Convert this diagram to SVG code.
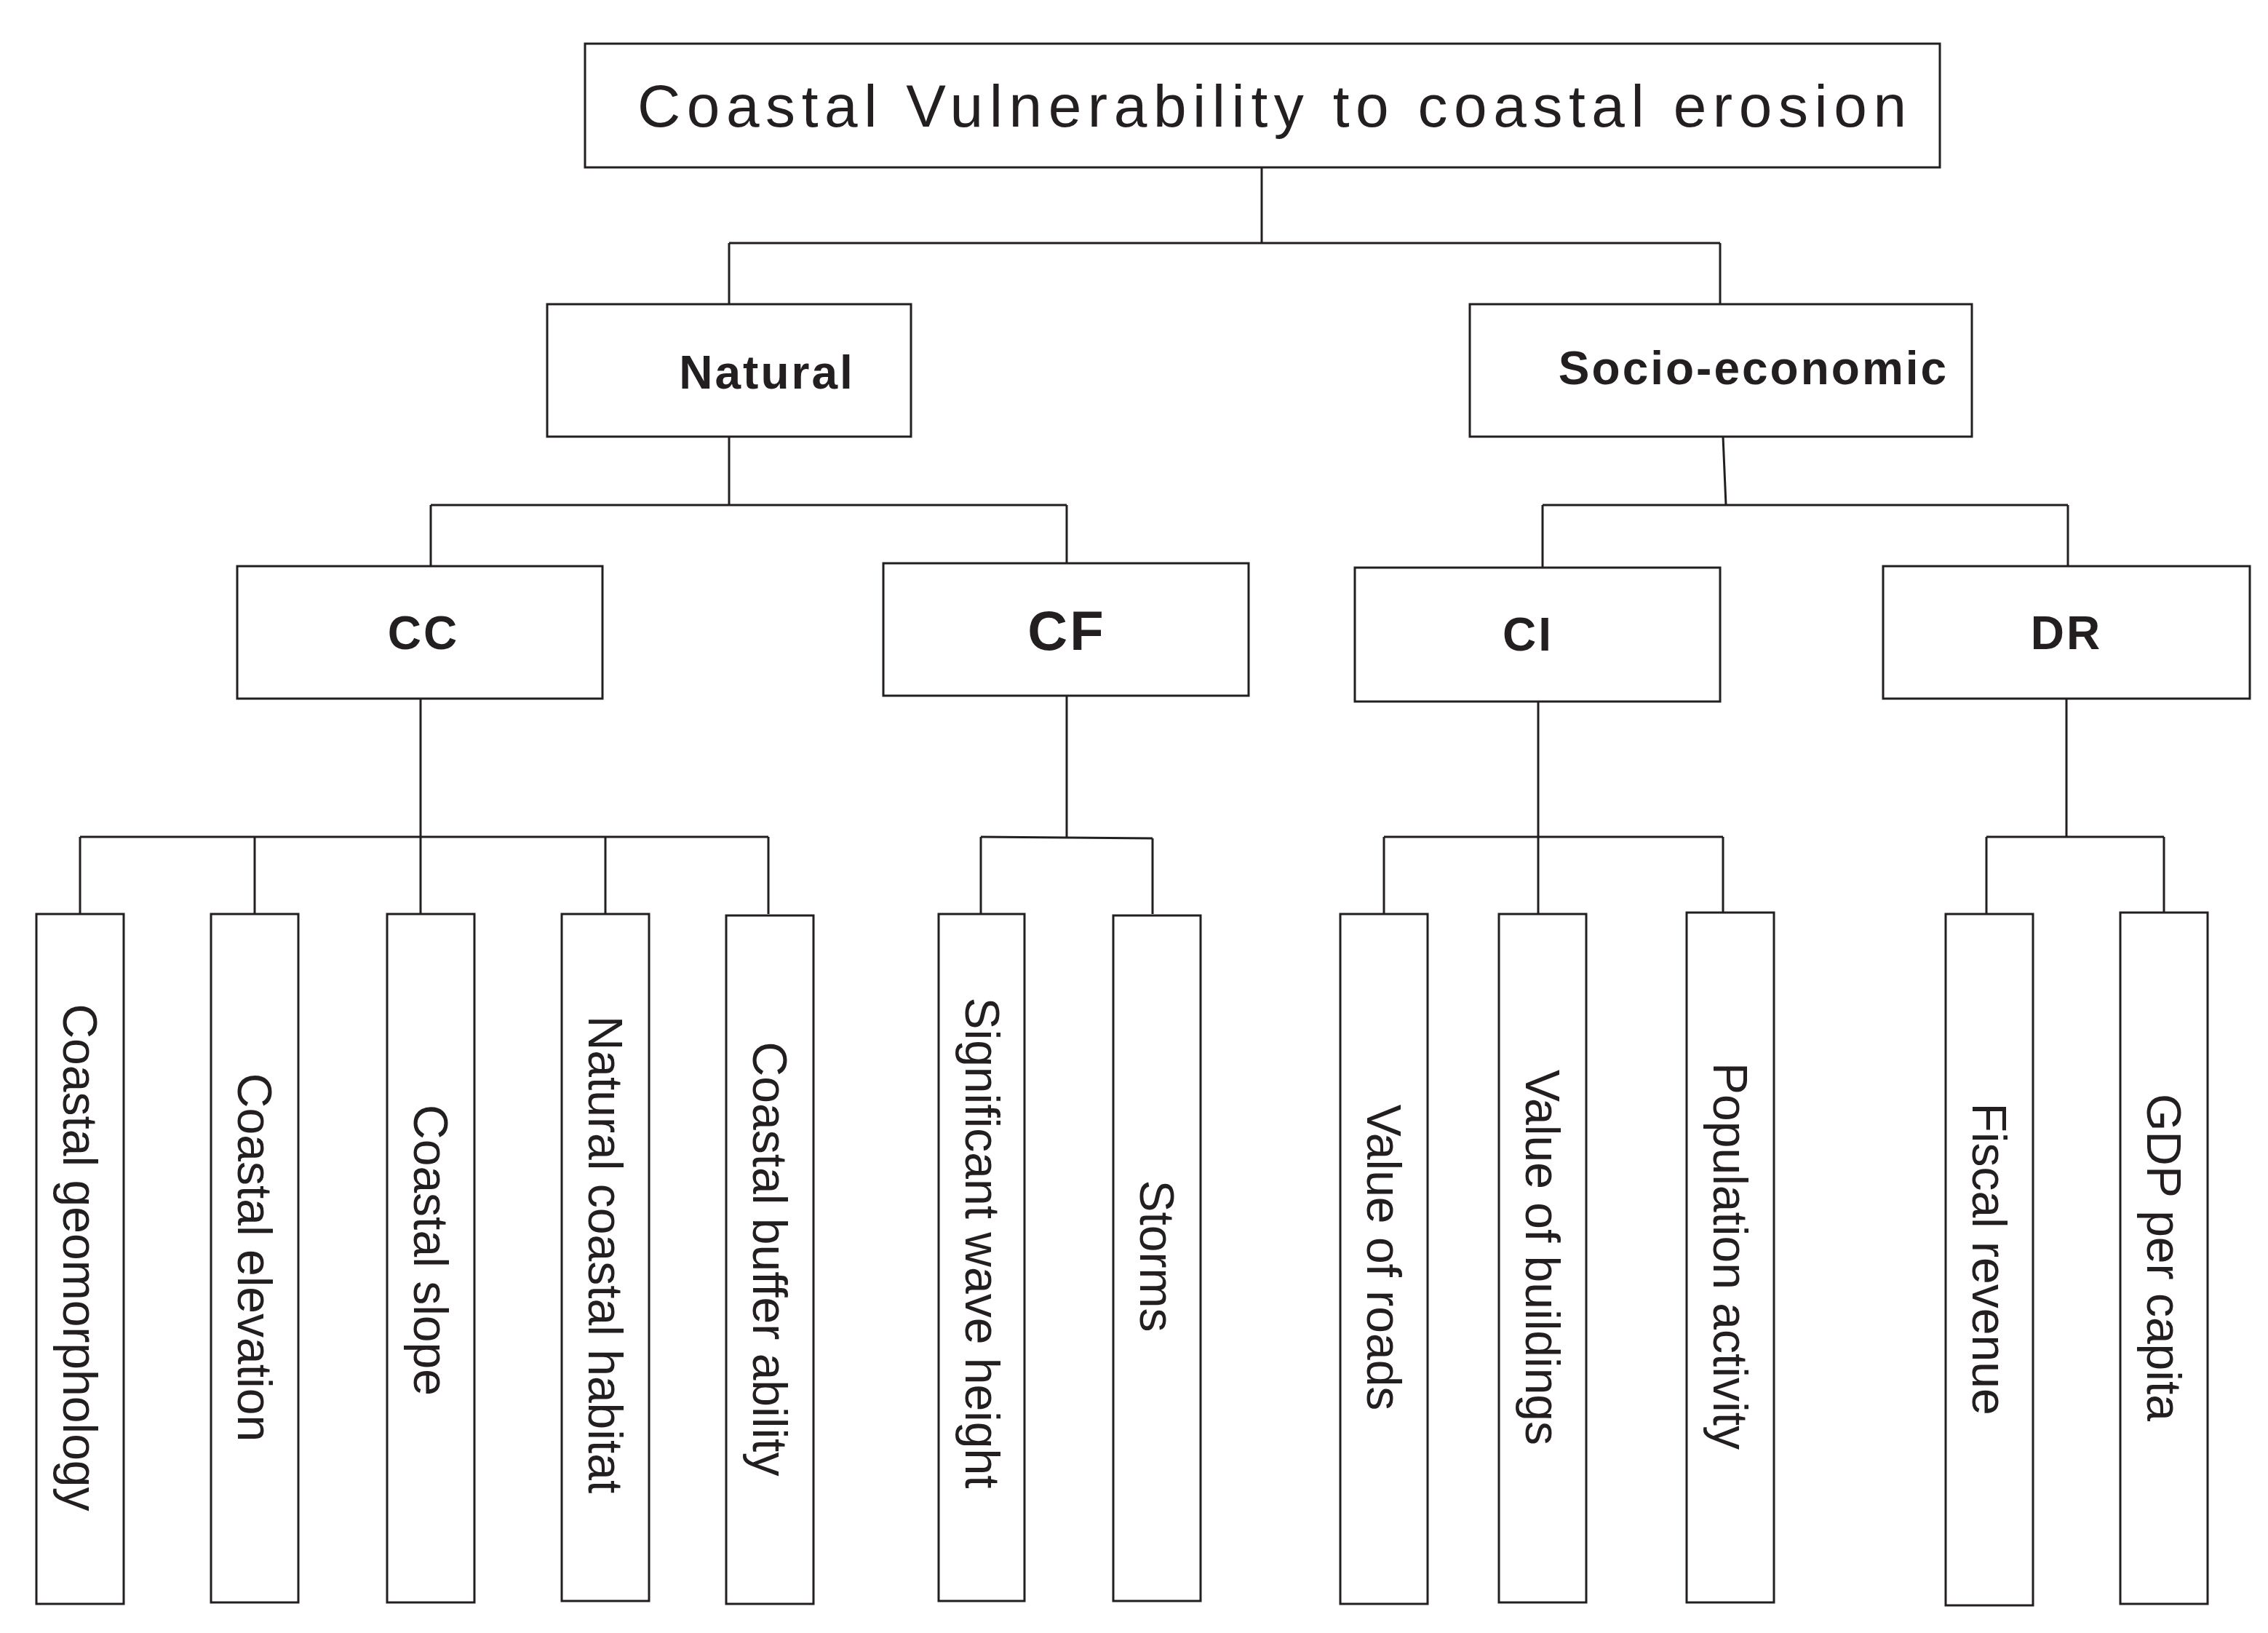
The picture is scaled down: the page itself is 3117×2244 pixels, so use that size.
<svg xmlns="http://www.w3.org/2000/svg" width="3117" height="2244" viewBox="0 0 3117 2244">
<style>
rect{fill:#fff;stroke:#231f20;stroke-width:3}
.c line{stroke:#231f20;stroke-width:3}
text{font-family:"Liberation Sans",Arial,sans-serif;fill:#231f20;text-anchor:middle;dominant-baseline:central}
.b{font-weight:bold;font-size:64px;letter-spacing:3px}
.v{font-size:66px}
</style>
<rect x="0" y="0" width="3117" height="2244" style="stroke:none"/>
<g class="c">
<line x1="1734" y1="230" x2="1734" y2="334"/><line x1="1002" y1="334" x2="2364" y2="334"/>
<line x1="1002" y1="334" x2="1002" y2="418"/><line x1="2364" y1="334" x2="2364" y2="418"/>
<line x1="1002" y1="600" x2="1002" y2="694"/><line x1="592" y1="694" x2="1466" y2="694"/>
<line x1="592" y1="694" x2="592" y2="778"/><line x1="1466" y1="694" x2="1466" y2="774"/>
<line x1="2368" y1="600" x2="2372" y2="694"/><line x1="2120" y1="694" x2="2842" y2="694"/>
<line x1="2120" y1="694" x2="2120" y2="780"/><line x1="2842" y1="694" x2="2842" y2="778"/>
<line x1="578" y1="960" x2="578" y2="1150"/><line x1="110" y1="1150" x2="1056" y2="1150"/>
<line x1="110" y1="1150" x2="110" y2="1256"/><line x1="350" y1="1150" x2="350" y2="1256"/><line x1="578" y1="1150" x2="578" y2="1256"/><line x1="832" y1="1150" x2="832" y2="1256"/><line x1="1056" y1="1150" x2="1056" y2="1256"/>
<line x1="1466" y1="956" x2="1466" y2="1150"/><line x1="1348" y1="1150" x2="1584" y2="1152"/>
<line x1="1348" y1="1150" x2="1348" y2="1256"/><line x1="1584" y1="1152" x2="1584" y2="1256"/>
<line x1="2114" y1="964" x2="2114" y2="1256"/><line x1="1902" y1="1150" x2="2368" y2="1150"/>
<line x1="1902" y1="1150" x2="1902" y2="1256"/><line x1="2368" y1="1150" x2="2368" y2="1254"/>
<line x1="2840" y1="960" x2="2840" y2="1150"/><line x1="2730" y1="1150" x2="2974" y2="1150"/>
<line x1="2730" y1="1150" x2="2730" y2="1256"/><line x1="2974" y1="1150" x2="2974" y2="1254"/>
</g>
<g id="root"><rect x="804" y="60" width="1862" height="170"/><text x="1748" y="145" font-size="82" textLength="1744" lengthAdjust="spacing">Coastal Vulnerability  to  coastal  erosion</text></g>
<g id="natural"><rect x="752" y="418" width="500" height="182"/><text class="b" x="1054" y="512">Natural</text></g>
<g id="socio"><rect x="2020" y="418" width="690" height="182"/><text class="b" x="2410" y="506">Socio-economic</text></g>
<g id="cc"><rect x="326" y="778" width="502" height="182"/><text class="b" x="582" y="870">CC</text></g>
<g id="cf"><rect x="1214" y="774" width="502" height="182"/><text class="b" x="1466" y="866" style="font-size:76px">CF</text></g>
<g id="ci"><rect x="1862" y="780" width="502" height="184"/><text class="b" x="2100" y="872">CI</text></g>
<g id="dr"><rect x="2588" y="778" width="504" height="182"/><text class="b" x="2840" y="870">DR</text></g>
<g id="l1"><rect x="50" y="1256" width="120" height="948"/><text class="v" transform="translate(110 1728) rotate(90)">Coastal geomorphology</text></g>
<g id="l2"><rect x="290" y="1256" width="120" height="946"/><text class="v" transform="translate(350 1728) rotate(90)">Coastal elevation</text></g>
<g id="l3"><rect x="532" y="1256" width="120" height="946"/><text class="v" transform="translate(592 1718) rotate(90)">Coastal slope</text></g>
<g id="l4"><rect x="772" y="1256" width="120" height="944"/><text class="v" transform="translate(832 1724) rotate(90)">Natural coastal habitat</text></g>
<g id="l5"><rect x="998" y="1258" width="120" height="946"/><text class="v" transform="translate(1058 1730) rotate(90)">Coastal buffer ability</text></g>
<g id="l6"><rect x="1290" y="1256" width="118" height="944"/><text class="v" transform="translate(1350 1708) rotate(90)">Significant wave height</text></g>
<g id="l7"><rect x="1530" y="1258" width="120" height="942"/><text class="v" transform="translate(1590 1726) rotate(90)">Storms</text></g>
<g id="l8"><rect x="1842" y="1256" width="120" height="948"/><text class="v" transform="translate(1902 1728) rotate(90)">Value of roads</text></g>
<g id="l9"><rect x="2060" y="1256" width="120" height="946"/><text class="v" transform="translate(2120 1728) rotate(90)">Value of buildings</text></g>
<g id="l10"><rect x="2318" y="1254" width="120" height="948"/><text class="v" transform="translate(2378 1726) rotate(90)">Population activity</text></g>
<g id="l11"><rect x="2674" y="1256" width="120" height="950"/><text class="v" transform="translate(2734 1730) rotate(90)">Fiscal revenue</text></g>
<g id="l12"><rect x="2914" y="1254" width="120" height="950"/><text class="v" transform="translate(2974 1728) rotate(90)">GDP per capita</text></g>
</svg>
